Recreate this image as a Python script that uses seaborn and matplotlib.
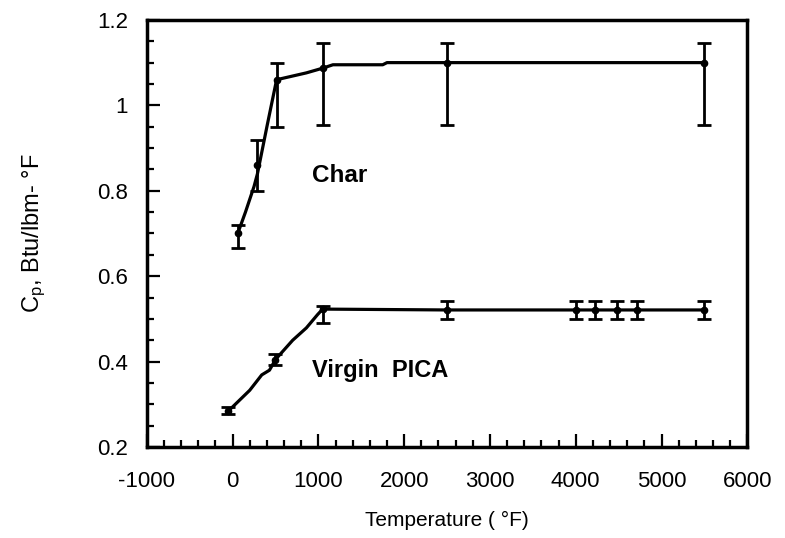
import matplotlib
matplotlib.use("Agg")
import matplotlib.pyplot as plt
import seaborn as sns
import numpy as np
import pandas as pd
from matplotlib.ticker import MultipleLocator

# --- Char: traced curve and measured points ---
char_line_x = [60, 150, 250, 290, 400, 513, 665, 860, 1050, 1170, 1750, 1800, 2500, 5500]
char_line_y = [0.70, 0.75, 0.81, 0.84, 0.95, 1.06, 1.067, 1.076, 1.087, 1.095, 1.095, 1.10, 1.10, 1.10]
char_pt_x = [60, 290, 520, 1050, 2500, 5500]
char_pt_y = [0.70, 0.86, 1.06, 1.087, 1.10, 1.10]
char_lo = [0.665, 0.80, 0.95, 0.955, 0.955, 0.955]
char_hi = [0.72, 0.92, 1.10, 1.146, 1.146, 1.146]

# --- Virgin PICA ---
pica_line_x = [-50, 0, 200, 340, 430, 500, 700, 860, 990, 1050, 2500, 5500]
pica_line_y = [0.285, 0.294, 0.333, 0.369, 0.38, 0.405, 0.45, 0.479, 0.51, 0.523, 0.521, 0.521]
pica_pt_x = [-50, 500, 1050, 2500, 4000, 4225, 4480, 4710, 5500]
pica_pt_y = [0.285, 0.405, 0.523, 0.521, 0.521, 0.521, 0.521, 0.521, 0.521]
pica_lo = [0.277, 0.392, 0.49, 0.50, 0.50, 0.50, 0.50, 0.50, 0.50]
pica_hi = [0.293, 0.418, 0.53, 0.542, 0.542, 0.542, 0.542, 0.542, 0.542]

sns.set_theme(style="ticks")
plt.rcParams['font.family'] = ['Liberation Sans', 'DejaVu Sans']
plt.rcParams['mathtext.default'] = 'regular'
plt.rcParams['axes.unicode_minus'] = False
plt.rcParams['text.color'] = 'black'
plt.rcParams['axes.labelcolor'] = 'black'
plt.rcParams['xtick.color'] = 'black'
plt.rcParams['ytick.color'] = 'black'

fig = plt.figure(figsize=(7.85, 5.38), dpi=100)
ax = fig.add_axes([0.187, 0.169, 0.765, 0.794])

for lx, ly, px, py, lo, hi in [
    (char_line_x, char_line_y, char_pt_x, char_pt_y, char_lo, char_hi),
    (pica_line_x, pica_line_y, pica_pt_x, pica_pt_y, pica_lo, pica_hi),
]:
    df = pd.DataFrame({"x": lx, "y": ly})
    sns.lineplot(data=df, x="x", y="y", ax=ax, color="black", linewidth=2.3,
                 sort=False, estimator=None)
    py_a = np.array(py)
    yerr = np.vstack([py_a - np.array(lo), np.array(hi) - py_a])
    ax.errorbar(px, py, yerr=yerr, fmt="o", color="black", markersize=4.5,
                elinewidth=2.0, capsize=4.8, capthick=2.0)

ax.text(930, 0.8206, "Char", fontsize=17.5, fontweight="bold", va="baseline", ha="left",
        color="black")
ax.text(922, 0.364, "Virgin  PICA", fontsize=17, fontweight="bold", va="baseline", ha="left",
        color="black")

ax.set_xlim(-1000, 6000)
ax.set_ylim(0.2, 1.2)
ax.xaxis.set_major_locator(MultipleLocator(1000))
ax.xaxis.set_minor_locator(MultipleLocator(200))
ax.yaxis.set_minor_locator(MultipleLocator(0.05))
ax.set_yticks([0.2, 0.4, 0.6, 0.8, 1.0, 1.2])
ax.set_yticklabels(["0.2", "0.4", "0.6", "0.8", "1", "1.2"])
ax.tick_params(which="major", direction="in", length=9.5, width=1.6, labelsize=16,
               top=False, right=False, color="black", labelcolor="black")
ax.tick_params(which="minor", direction="in", length=5, width=1.6, top=False, right=False,
               color="black")
ax.tick_params(axis="x", which="major", pad=17.5)
ax.tick_params(axis="y", which="major", pad=13.5)
for s in ax.spines.values():
    s.set_linewidth(2.5)
    s.set_color("black")

ax.set_xlabel("Temperature ( °F)", fontsize=15, labelpad=13, color="black")
ax.set_ylabel("C$_{p}$, Btu/lbm- °F", fontsize=17, labelpad=35, color="black")

fig.savefig("out.png", dpi=100)
